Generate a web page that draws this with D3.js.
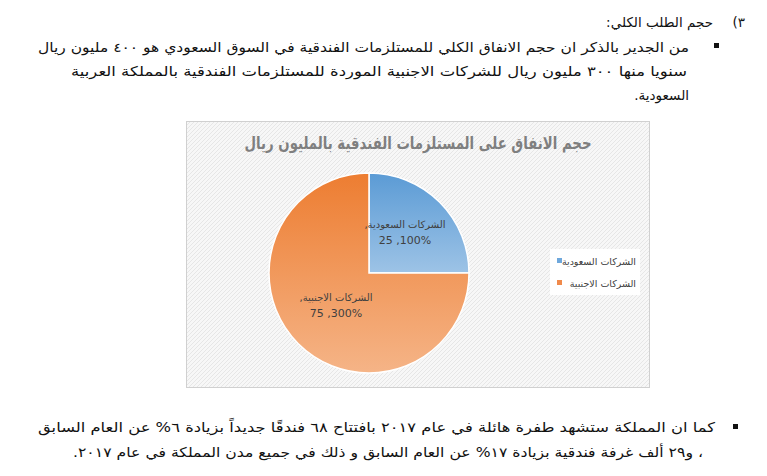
<!DOCTYPE html><html><head><meta charset="utf-8"><script src="https://cdn.jsdelivr.net/npm/d3@7"></script>
<style>body{margin:0;background:#fff}svg{display:block}</style></head><body><svg id="c" width="767" height="476"></svg>
<script>
const categories=["الشركات السعودية","الشركات الاجنبية"];
const values=[100,300];
const percents=[25,75];
const title="حجم الانفاق على المستلزمات الفندقية بالمليون ريال";
const paraTop=["حجم الطلب الكلي:","من الجدير بالذكر ان حجم الانفاق الكلي للمستلزمات الفندقية في السوق السعودي هو ٤٠٠ مليون ريال","سنويا منها ٣٠٠ مليون ريال للشركات الاجنبية الموردة للمستلزمات الفندقية بالمملكة العربية","السعودية."];
const paraBottom=["كما ان المملكة ستشهد طفرة هائلة في عام ٢٠١٧ بافتتاح ٦٨ فندقًا جديداً بزيادة ٦% عن العام السابق","، و٢٩ ألف غرفة فندقية بزيادة ١٧% عن العام السابق و ذلك في جميع مدن المملكة في عام ٢٠١٧."];
const svg=d3.select("#c");
const defs=svg.append("defs");
const pat=defs.append("pattern").attr("id","hatch").attr("width",4).attr("height",4).attr("patternUnits","userSpaceOnUse");
pat.append("rect").attr("width",4).attr("height",4).attr("fill","#f7f7f7");
pat.append("path").attr("d","M0,4L4,0").attr("stroke","#e6e6e6").attr("stroke-width",1);
const g1=defs.append("linearGradient").attr("id","gb").attr("gradientUnits","userSpaceOnUse").attr("y1",-100).attr("y2",0).attr("x1",0).attr("x2",0);
g1.append("stop").attr("offset",0).attr("stop-color","#5b9bd5");g1.append("stop").attr("offset",1).attr("stop-color","#9dc3e6");
const g2=defs.append("linearGradient").attr("id","go").attr("gradientUnits","userSpaceOnUse").attr("x1",0).attr("x2",0).attr("y1",-100).attr("y2",100);
g2.append("stop").attr("offset",0).attr("stop-color","#ed7d31");g2.append("stop").attr("offset",1).attr("stop-color","#f5b487");
const font="'DejaVu Sans', 'Noto Sans', sans-serif";
const tx=svg.append("g").attr("font-family",font).attr("font-size",13.5).attr("fill","#111").attr("direction","rtl");
function line(t,l,r,y){tx.append("text").attr("x",(l+r)/2).attr("y",y).attr("text-anchor","middle").attr("textLength",r-l).attr("lengthAdjust","spacingAndGlyphs").text(t);}
tx.append("text").attr("x",745).attr("y",27).text("٣)");
tx.append("text").attr("x",713).attr("y",27).text(paraTop[0]);
line(paraTop[1],38,689,52);line(paraTop[2],71,687,76);
tx.append("text").attr("x",689).attr("y",100).text(paraTop[3]);
svg.append("rect").attr("x",714).attr("y",43).attr("width",5).attr("height",5).attr("fill","#111");
line(paraBottom[0],38,715,432);line(paraBottom[1],73,703,457);
svg.append("rect").attr("x",733).attr("y",424).attr("width",5).attr("height",5).attr("fill","#111");
svg.append("rect").attr("x",186.5).attr("y",121.5).attr("width",463).attr("height",266).attr("fill","url(#hatch)").attr("stroke","#d0d0d0");
svg.append("text").attr("x",418).attr("y",149).attr("text-anchor","middle").attr("textLength",347).attr("lengthAdjust","spacingAndGlyphs").attr("font-family",font).attr("font-weight","bold").attr("font-size",17).attr("fill","#7f7f7f").attr("direction","rtl").text(title);
const cx=369,cy=273,r=100;
const pie=d3.pie().sort(null)(values);
const arc=d3.arc().innerRadius(0).outerRadius(r);
const pg=svg.append("g").attr("transform",`translate(${cx},${cy})`);
pg.selectAll("path").data(pie).join("path").attr("d",arc).attr("fill",(d,i)=>i?"url(#go)":"url(#gb)").attr("stroke","#fff").attr("stroke-width",1.5);
const lp=[[36,-45],[-33,28]];
pie.forEach((d,i)=>{
 const t=pg.append("text").attr("font-family",font).attr("font-size",11).attr("fill","#404040").attr("text-anchor","middle");
 t.append("tspan").attr("x",lp[i][0]).attr("y",lp[i][1]).attr("font-size",10).text(categories[i]+",\u200F");
 t.append("tspan").attr("x",lp[i][0]).attr("y",lp[i][1]+16).text(`${percents[i]} ,${values[i]}%`);
});
svg.append("rect").attr("x",550).attr("y",249).attr("width",90).attr("height",46).attr("fill","#fff");
const lg=svg.append("g").attr("font-family",font).attr("font-size",9.5).attr("fill","#404040");
categories.forEach((c,i)=>{
 const y=262+i*22;
 lg.append("rect").attr("x",557).attr("y",y-4).attr("width",5).attr("height",5).attr("fill",i?"#f08a4b":"#6fa8dc");
 lg.append("text").attr("x",636).attr("y",y+3).attr("direction","rtl").text(c);
});
</script></body></html>
